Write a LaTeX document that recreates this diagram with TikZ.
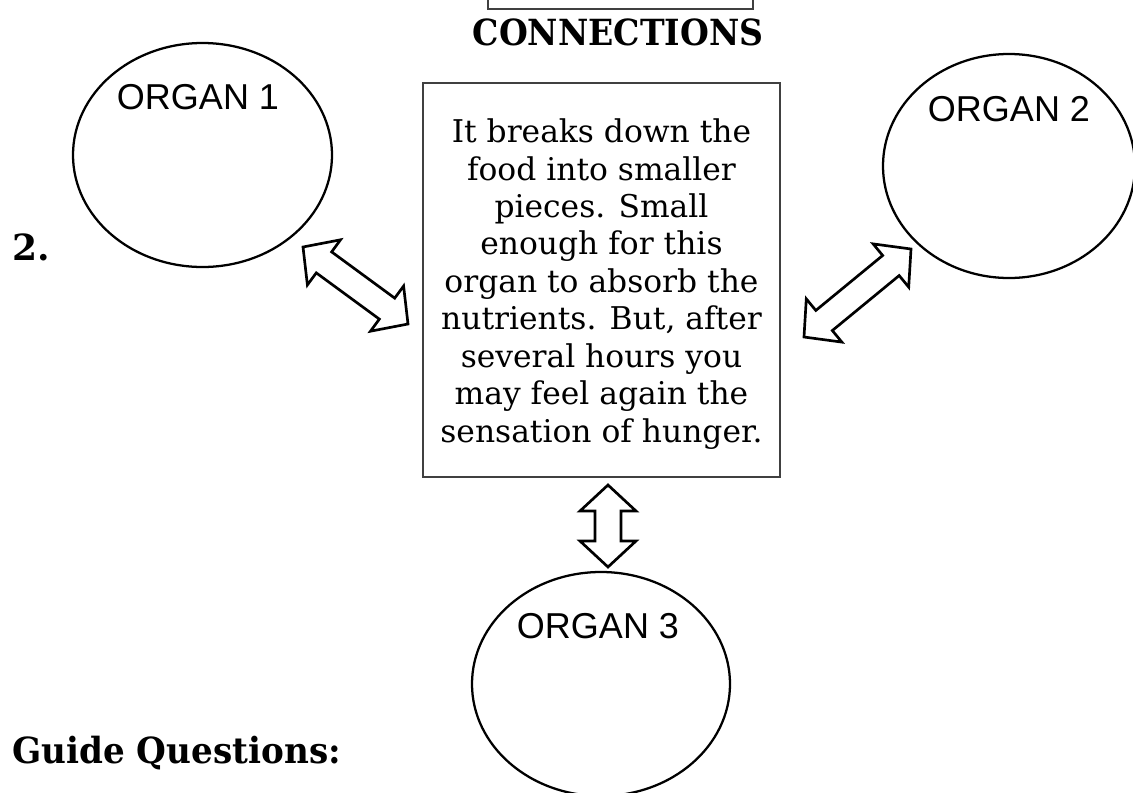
\documentclass[tikz,border=0pt]{standalone}
\usepackage{fontspec}
\usetikzlibrary{calc,shapes.geometric}
\newfontfamily\arialf{Liberation Sans}
\newfontfamily\bkf{DejaVu Serif}
\tikzset{
  organ/.style={ellipse, draw, line width=1.7pt, inner sep=0pt, minimum height=168pt},
  organlbl/.style={font=\arialf\fontsize{27}{32}\selectfont, anchor=base, inner sep=0pt},
  barrow/.style={draw, line width=2pt, fill=white, line join=miter},
  heading/.style={font=\bkf\bfseries\fontsize{27}{32}\selectfont, inner sep=0pt},
  infobox/.style={draw=black!75, line width=1pt, minimum width=267.75pt, minimum height=295.5pt, inner sep=0pt},
  infotext/.style={align=center, inner sep=0pt, font=\bkf\fontsize{23.5}{28.1}\selectfont},
}
\newcommand\dblarrow[2]{%
  \draw[barrow] (#1)
    -- ($(#1)!19.5pt!(#2)!21pt!90:(#2)$)
    -- ($(#1)!19.5pt!(#2)!9.75pt!90:(#2)$)
    -- ($(#2)!19.5pt!(#1)!9.75pt!-90:(#1)$)
    -- ($(#2)!19.5pt!(#1)!21pt!-90:(#1)$)
    -- (#2)
    -- ($(#2)!19.5pt!(#1)!21pt!90:(#1)$)
    -- ($(#2)!19.5pt!(#1)!9.75pt!90:(#1)$)
    -- ($(#1)!19.5pt!(#2)!9.75pt!-90:(#2)$)
    -- ($(#1)!19.5pt!(#2)!21pt!-90:(#2)$)
    -- cycle;}
\begin{document}
\begin{tikzpicture}[x=0.75pt, y=-0.75pt]
\useasboundingbox (0,0) rectangle (1133,793);
% top box (cut off at top)
\node[draw=black!75, line width=0.9pt, minimum width=198.75pt, minimum height=30pt, inner sep=0pt] (topbox) at (620.5,-11) {};
\node[heading, anchor=base, xscale=0.92] (title) at (618,45) {CONNECTIONS};
\node[heading, anchor=base west] (num) at (12,260) {2.};
\node[heading, anchor=base west, xscale=0.95] (guide) at (12,763) {Guide Questions:};
% organs
\node[organ, minimum width=194.25pt] (o1) at (202.5,155) {};
\node[organlbl] (o1t) at (198,109) {ORGAN 1};
\node[organ, minimum width=189pt] (o2) at (1009,166) {};
\node[organlbl] (o2t) at (1009,121) {ORGAN 2};
\node[organ, minimum width=193.5pt] (o3) at (601,684) {};
\node[organlbl] (o3t) at (598,638) {ORGAN 3};
% central box
\node[infobox] (cbox) at (601.5,280) {};
\node[infotext] (ctext) at (601.5,284) {It breaks down the\\food into smaller\\pieces. Small\\enough for this\\organ to absorb the\\nutrients. But, after\\several hours you\\may feel again the\\sensation of hunger.};
% arrow ends
\coordinate (a1s) at (303,247);
\coordinate (a1e) at (408,324);
\coordinate (a2s) at (804,337);
\coordinate (a2e) at (911,249);
\coordinate (a3s) at (608,485);
\coordinate (a3e) at (608,567);
\dblarrow{a1s}{a1e}
\dblarrow{a2s}{a2e}
\dblarrow{a3s}{a3e}
\end{tikzpicture}
\end{document}
